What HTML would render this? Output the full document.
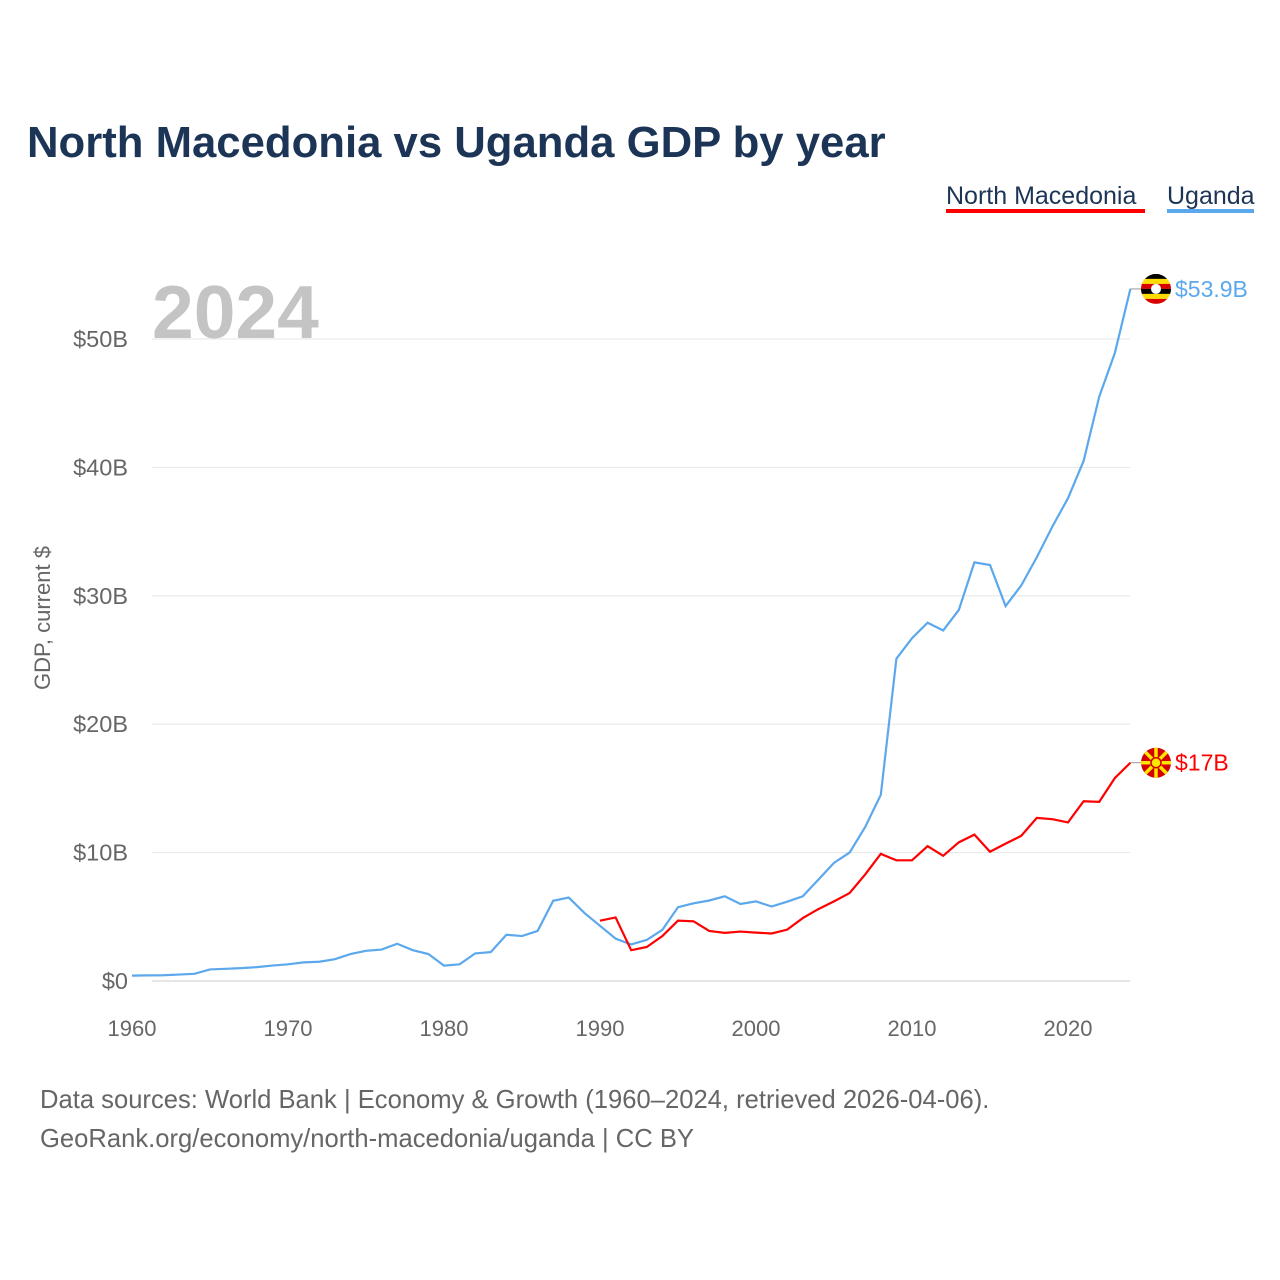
<!DOCTYPE html>
<html><head><meta charset="utf-8">
<style>
body{margin:0;background:#fff;font-family:"Liberation Sans",sans-serif;}
#wrap{position:relative;width:1280px;height:1280px;overflow:hidden;}
</style></head>
<body>
<div id="wrap">
<svg id="chart" width="1280" height="1280">
<defs><clipPath id="ugclip"><circle id="ugc" cx="1156" cy="289" r="15"/></clipPath></defs>
<text x="27" y="157" font-size="43.7" font-weight="bold" fill="#1c3557">North Macedonia vs Uganda GDP by year</text>
<g>
<text x="946" y="204" font-size="25" fill="#1c3557">North Macedonia</text>
<rect x="946" y="209" width="199" height="4" fill="#ff0000"/></g>
<g>
<text x="1167" y="204" font-size="25" fill="#1c3557">Uganda</text>
<rect x="1167" y="209" width="87" height="4" fill="#5ba8ec"/></g>
<text x="152" y="338" font-size="75" font-weight="bold" fill="#c4c4c4">2024</text>
<text transform="translate(50,618) rotate(-90)" text-anchor="middle" font-size="22" fill="#666">GDP, current $</text>
<g id="grid"></g><g id="xt"></g><g id="lines"></g>
<text x="40" y="1108" font-size="25.6" fill="#666">Data sources: World Bank | Economy &amp; Growth (1960–2024, retrieved 2026-04-06).</text>
<text x="40" y="1147" font-size="25.6" fill="#666">GeoRank.org/economy/north-macedonia/uganda | CC BY</text>
</svg>
</div>
<script>
const yTicks=[0,10,20,30,40,50];
const xTicks=[1960,1970,1980,1990,2000,2010,2020];
const ugYears=[];for(let y=1960;y<=2024;y++)ugYears.push(y);
const ugVals=[0.42,0.44,0.45,0.5,0.56,0.9,0.95,1.0,1.08,1.2,1.3,1.45,1.5,1.7,2.1,2.35,2.45,2.9,2.4,2.1,1.2,1.3,2.15,2.25,3.6,3.5,3.9,6.25,6.5,5.3,4.3,3.3,2.85,3.2,3.99,5.75,6.05,6.27,6.6,6.0,6.2,5.8,6.18,6.6,7.9,9.2,10.0,12.0,14.5,25.1,26.7,27.9,27.3,28.9,32.6,32.4,29.2,30.8,33.0,35.4,37.6,40.5,45.5,48.9,53.9];
const mkYears=[];for(let y=1990;y<=2024;y++)mkYears.push(y);
const mkVals=[4.7,4.95,2.4,2.65,3.5,4.7,4.65,3.9,3.75,3.85,3.77,3.7,4.0,4.9,5.6,6.2,6.85,8.3,9.9,9.4,9.4,10.5,9.75,10.8,11.4,10.07,10.7,11.3,12.7,12.6,12.35,14.0,13.95,15.8,17.0];
const X=y=>132+(y-1960)*15.6, Y=v=>981-v*12.84;
const NS="http://www.w3.org/2000/svg";
function mk(t,a,p){const e=document.createElementNS(NS,t);for(const k in a)e.setAttribute(k,a[k]);p.appendChild(e);return e;}
const grid=document.getElementById('grid');
yTicks.forEach(v=>{
 const l=mk('line',{x1:152,x2:1130,y1:Y(v),y2:Y(v),stroke:v?'#e6e6e6':'#ccc','stroke-width':1},grid);
 
 
 const t=mk('text',{x:128,y:Y(v)+8,'text-anchor':'end','font-size':23.5,fill:'#666'},grid);t.textContent='$'+v+(v?'B':'');
 
 
});
const xt=document.getElementById('xt');
xTicks.forEach(y=>{
 const t=mk('text',{x:X(y),y:1036,'text-anchor':'middle','font-size':22,fill:'#666'},xt);t.textContent=y;
 
 
});
const lines=document.getElementById('lines');
function series(ys,vs,c,name,label){
 const p=mk('path',{d:ys.map((y,i)=>(i?'L':'M')+X(y)+' '+Y(vs[i])).join(''),fill:'none',stroke:c,'stroke-width':2.2},lines);
 
 
 const ly=Y(vs[vs.length-1]),lx=X(ys[ys.length-1]);
 mk('line',{x1:lx,x2:lx+12,y1:ly,y2:ly,stroke:'#999'},lines);
 const f=mk('g',{},lines);
 
 
 if(name==='uganda'){
  const cc=document.getElementById('ugc');cc.setAttribute('cy',ly);
  const g=mk('g',{'clip-path':'url(#ugclip)'},f);
  ['#000','#fcdc04','#d90000','#000','#fcdc04','#d90000'].forEach((col,i)=>mk('rect',{x:1141,y:ly-15+i*5,width:30,height:5,fill:col},g));
  mk('circle',{cx:1156,cy:ly,r:5,fill:'#fff'},g);
 }else{
  mk('circle',{cx:1156,cy:ly,r:15,fill:'#d20000'},f);
  for(let a=0;a<8;a++){const an=a*Math.PI/4;mk('line',{x1:1156,y1:ly,x2:1156+15*Math.cos(an),y2:ly+15*Math.sin(an),stroke:'#ffe600','stroke-width':3.5},f);}
  mk('circle',{cx:1156,cy:ly,r:5,fill:'#ffe600',stroke:'#d20000','stroke-width':1.5},f);
 }
 const t=mk('text',{x:1175,y:ly+8,'font-size':23,fill:c},lines);t.textContent=label;
 
 
}
series(ugYears,ugVals,'#5ba8ec','uganda','$53.9B');
series(mkYears,mkVals,'#ff0000','north-macedonia','$17B');
</script>
</body></html>
